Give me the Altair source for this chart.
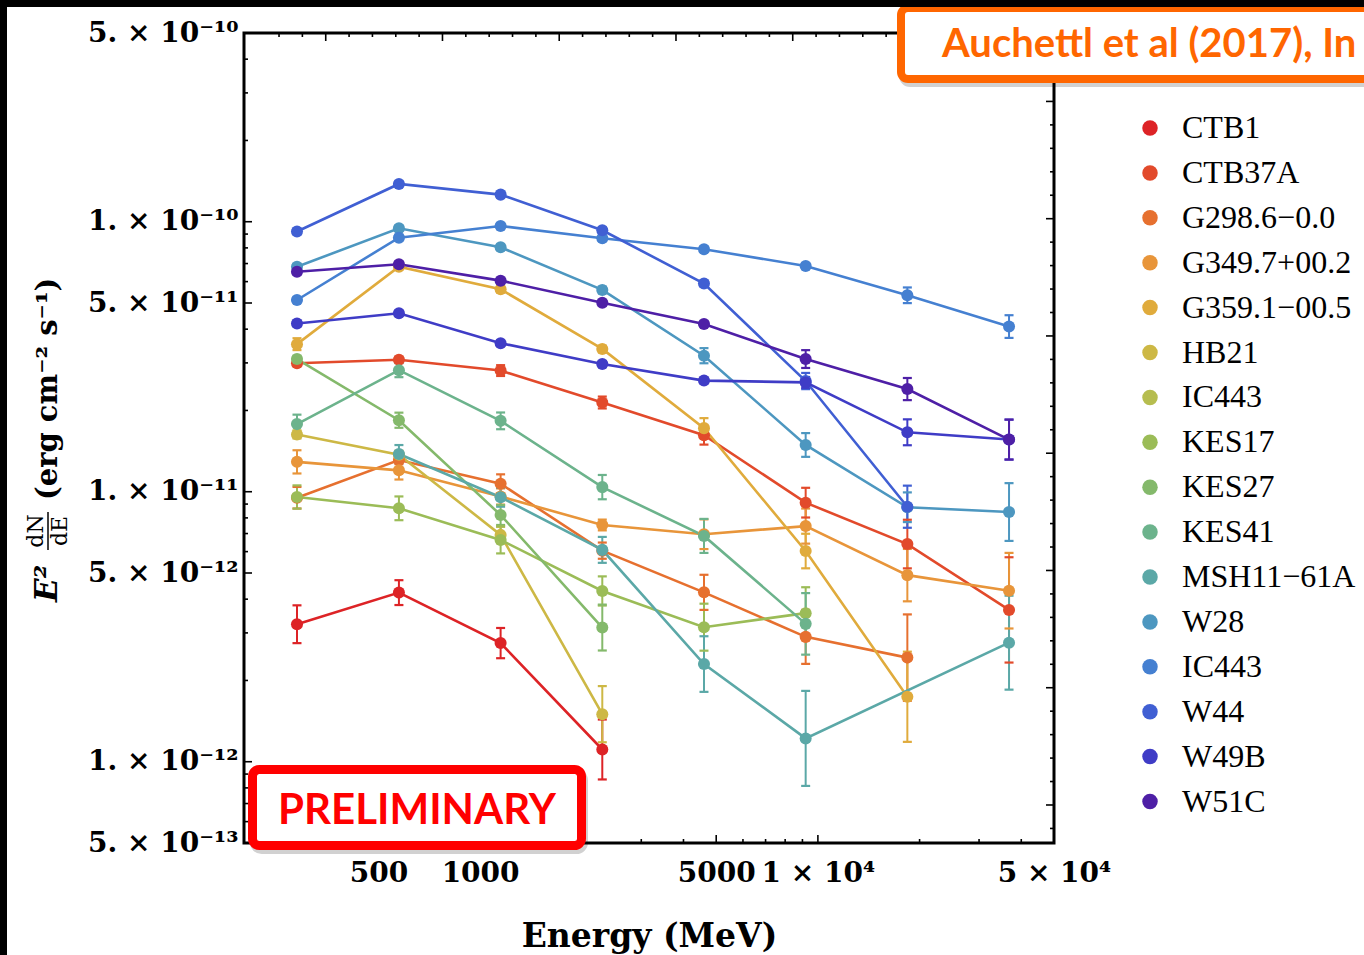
import numpy as np
import pandas as pd
import altair as alt

# Energy bin centres (MeV)
energy = [287, 575, 1150, 2300, 4600, 9200, 18400, 36800]

# E^2 dN/dE per source (erg cm^-2 s^-1); None = no measurement in that bin
ctb1 = [3.23e-12, 4.23e-12, 2.75e-12, 1.11e-12, None, None, None, None]
ctb37a = [2.99e-11, 3.08e-11, 2.81e-11, 2.14e-11, 1.62e-11, 9.11e-12, 6.40e-12, 3.65e-12]
g298 = [9.50e-12, 1.31e-11, 1.07e-11, 6.05e-12, 4.24e-12, 2.90e-12, 2.43e-12, None]
g349 = [1.29e-11, 1.20e-11, 9.60e-12, 7.53e-12, 6.96e-12, 7.46e-12, 4.91e-12, 4.30e-12]
g359 = [3.52e-11, 6.81e-11, 5.62e-11, 3.38e-11, 1.72e-11, 6.03e-12, 1.74e-12, None]
hb21 = [1.63e-11, 1.37e-11, 6.92e-12, 1.50e-12, None, None, None, None]
ic443 = [None, None, None, None, None, None, None, None]
kes17 = [9.56e-12, 8.68e-12, 6.63e-12, 4.29e-12, 3.15e-12, 3.55e-12, None, None]
kes27 = [3.10e-11, 1.84e-11, 8.20e-12, 3.14e-12, None, None, None, None]
kes41 = [1.78e-11, 2.82e-11, 1.83e-11, 1.04e-11, 6.86e-12, 3.24e-12, None, None]
msh11 = [None, 1.38e-11, 9.54e-12, 6.09e-12, 2.30e-12, 1.22e-12, None, 2.76e-12]
w28 = [6.81e-11, 9.46e-11, 8.04e-11, 5.59e-11, 3.19e-11, 1.49e-11, 8.76e-12, 8.41e-12]
ic443b = [5.13e-11, 8.73e-11, 9.64e-11, 8.68e-11, 7.91e-11, 6.86e-11, 5.34e-11, 4.09e-11]
w44 = [9.20e-11, 1.38e-10, 1.26e-10, 9.30e-11, 5.90e-11, 2.57e-11, 8.80e-12, None]
w49b = [4.20e-11, 4.58e-11, 3.55e-11, 2.97e-11, 2.58e-11, 2.54e-11, 1.66e-11, 1.56e-11]
w51c = [6.53e-11, 6.96e-11, 6.05e-11, 5.01e-11, 4.18e-11, 3.10e-11, 2.40e-11, 1.56e-11]

# Half-length of each error bar, in decades
ctb1_err = [0.070, 0.046, 0.056, 0.111, None, None, None, None]
ctb37a_err = [0.011, 0.011, 0.020, 0.022, 0.035, 0.055, 0.090, 0.195]
g298_err = [0.040, 0.015, 0.035, 0.030, 0.065, 0.100, 0.160, None]
g349_err = [0.043, 0.034, 0.030, 0.020, 0.055, 0.065, 0.097, 0.140]
g359_err = [0.022, 0.010, 0.012, 0.012, 0.037, 0.064, 0.167, None]
hb21_err = [0.015, 0.015, 0.030, 0.104, None, None, None, None]
ic443_err = [None, None, None, None, None, None, None, None]
kes17_err = [0.043, 0.044, 0.050, 0.054, 0.087, 0.096, None, None]
kes27_err = [0.012, 0.028, 0.037, 0.085, None, None, None, None]
kes41_err = [0.035, 0.026, 0.031, 0.045, 0.063, 0.114, None, None]
msh11_err = [None, 0.033, 0.035, 0.048, 0.103, 0.176, None, 0.174]
w28_err = [0.010, 0.010, 0.010, 0.012, 0.028, 0.044, 0.055, 0.107]
ic443b_err = [0.010, 0.010, 0.010, 0.010, 0.010, 0.010, 0.029, 0.042]
w44_err = [0.010, 0.010, 0.010, 0.010, 0.010, 0.030, 0.078, None]
w49b_err = [0.010, 0.010, 0.010, 0.010, 0.010, 0.020, 0.048, 0.074]
w51c_err = [0.010, 0.010, 0.010, 0.010, 0.010, 0.033, 0.041, 0.074]

source_names = ["CTB1", "CTB37A", "G298.6−0.0", "G349.7+00.2", "G359.1−00.5", "HB21",
                "IC443", "KES17", "KES27", "KES41", "MSH11−61A", "W28", "IC443 (2)",
                "W44", "W49B", "W51C"]
source_colors = ["#dd2326", "#e24a2b", "#e6702f", "#e8953a", "#e0ab3c", "#cdb845",
                 "#b6bd4f", "#9bbc57", "#84b96b", "#6cb38c", "#5ba8a7", "#4d97c0",
                 "#4580d1", "#405fd3", "#3f3cc6", "#4e1fa6"]

series = [ctb1, ctb37a, g298, g349, g359, hb21, ic443, kes17, kes27, kes41,
          msh11, w28, ic443b, w44, w49b, w51c]
series_err = [ctb1_err, ctb37a_err, g298_err, g349_err, g359_err, hb21_err, ic443_err,
              kes17_err, kes27_err, kes41_err, msh11_err, w28_err, ic443b_err,
              w44_err, w49b_err, w51c_err]

# Axis tick marks and their labels
x_major = [500, 1000, 5000, 10000, 50000]
x_labels = ["500", "1000", "5000", "1 × 10⁴", "5 × 10⁴"]
y_major = [5e-13, 1e-12, 5e-12, 1e-11, 5e-11, 1e-10, 5e-10]
y_labels = ["5. × 10⁻¹³", "1. × 10⁻¹²", "5. × 10⁻¹²", "1. × 10⁻¹¹",
            "5. × 10⁻¹¹", "1. × 10⁻¹⁰", "5. × 10⁻¹⁰"]

series_keys = [f"k{i:02d}" for i in range(len(source_names))]

rows = []
for key, name, vals, errs in zip(series_keys, source_names, series, series_err):
    for e, f, d in zip(energy, vals, errs):
        if f is None:
            continue
        rows.append({"key": key, "source": name, "energy": e, "flux": f,
                     "lo": f * 10 ** (-d), "hi": f * 10 ** d})
df = pd.DataFrame(rows)

W, H = 810, 810
XMIN, XMAX = 200, 50000
YMIN, YMAX = 5e-13, 5e-10
xscale = alt.Scale(type="log", domain=[XMIN, XMAX], nice=False)
yscale = alt.Scale(type="log", domain=[YMIN, YMAX], nice=False)

SERIF = "Liberation Serif"
TICKFONT = "DejaVu Serif"


def label_expr(values, labels):
    parts = [f"abs(log(datum.value) - log({v})) < 0.001 ? '{t}'" for v, t in zip(values, labels)]
    return " : ".join(parts) + " : ''"


x_axis = alt.Axis(values=x_major, labelExpr=label_expr(x_major, x_labels), ticks=False,
                  domain=False, grid=False, labelFont=TICKFONT, labelFontWeight="bold",
                  labelFontSize=28, labelColor="black", labelPadding=16, labelOverlap=False,
                  labelFlush=False, title="Energy (MeV)", titleFont=TICKFONT,
                  titleFontWeight="bold", titleFontSize=33, titleColor="black",
                  titleX=W / 2, titleY=93, titleBaseline="middle")
y_axis = alt.Axis(values=y_major, labelExpr=label_expr(y_major, y_labels), ticks=False,
                  domain=False, grid=False, labelFont=TICKFONT, labelFontWeight="bold",
                  labelFontSize=28, labelColor="black", labelPadding=6, labelOverlap=False,
                  labelFlush=False, title=None)


def X(field):
    return alt.X(field, type="quantitative", scale=xscale, axis=x_axis)


def Y(field):
    return alt.Y(field, type="quantitative", scale=yscale, axis=y_axis)


base = alt.Chart(df)
key_scale = alt.Scale(domain=series_keys, range=source_colors)

# lines and error bars are coloured through their own series key,
# so the legend comes from the points alone
err_rules = base.mark_rule(strokeWidth=2).encode(
    x=X("energy"), y=Y("lo"), y2="hi:Q",
    stroke=alt.Stroke("key:N", scale=key_scale, legend=None),
)
cap_lo = base.mark_tick(orient="horizontal", size=9, thickness=2.2, opacity=1).encode(
    x=X("energy"), y=Y("lo"),
    fill=alt.Fill("key:N", scale=key_scale, legend=None),
)
cap_hi = base.mark_tick(orient="horizontal", size=9, thickness=2.2, opacity=1).encode(
    x=X("energy"), y=Y("hi"),
    fill=alt.Fill("key:N", scale=key_scale, legend=None),
)
lines = base.mark_line(strokeWidth=2.6).encode(
    x=X("energy"), y=Y("flux"),
    stroke=alt.Stroke("key:N", scale=key_scale, legend=None),
)
points = base.mark_circle(size=145, opacity=1).encode(
    x=X("energy"), y=Y("flux"),
    color=alt.Color(
        "source:N", scale=alt.Scale(domain=source_names, range=source_colors),
        legend=alt.Legend(title=None, orient="none", legendX=890, legendY=79,
                          labelFont=SERIF, labelFontSize=32, labelColor="black",
                          labelExpr="replace(datum.label, ' (2)', '')", labelLimit=400,
                          labelOffset=16, symbolType="circle", symbolSize=240,
                          symbolStrokeWidth=0, symbolOpacity=1, rowPadding=12.9,
                          padding=0),
    ),
)

# Frame tick marks pointing into the plot
y_minor = [k * 10.0 ** e for e in range(-13, -9) for k in range(2, 10)
           if k != 5 and YMIN < k * 10.0 ** e < YMAX]
x_minor = [k * 10.0 ** e for e in range(2, 5) for k in range(2, 10)
           if k != 5 and XMIN <= k * 10.0 ** e <= XMAX]
ln_steps = np.arange(-141, -107) / 5.0
r_major = [float(np.exp(v)) for v in ln_steps if abs(v - round(v)) < 1e-9]
r_minor = [float(np.exp(v)) for v in ln_steps if abs(v - round(v)) >= 1e-9]
top_px = np.arange(35.0, W, 23.33)
t_vals = [XMIN * 10 ** (p / 337.5) for p in top_px]
t_major = [v for p, v in zip(top_px, t_vals) if abs(((p - 81.65) / 23.33) % 5) < 0.01]
t_minor = [v for v in t_vals if v not in t_major]


def yticks(vals, x0, x1):
    return alt.Chart(pd.DataFrame({"v": vals})).mark_rule(color="black", strokeWidth=1.6).encode(
        y=Y("v"), x=alt.value(x0), x2=alt.value(x1))


def xticks(vals, y0, y1):
    return alt.Chart(pd.DataFrame({"v": vals})).mark_rule(color="black", strokeWidth=1.6).encode(
        x=X("v"), y=alt.value(y0), y2=alt.value(y1))


ticks = [
    yticks(y_major, 0, 8), yticks(y_minor, 0, 4),
    yticks(r_major, W - 8, W), yticks(r_minor, W - 4, W),
    xticks(x_major, H, H - 8), xticks(x_minor, H, H - 4),
    xticks(t_major, 0, 8), xticks(t_minor, 0, 4),
]

one = pd.DataFrame({"a": [0]})


def vtext(txt, x, y, size, weight="bold", style="normal", align="left"):
    return alt.Chart(one).mark_text(font=TICKFONT, fontSize=size, fontWeight=weight,
                                    fontStyle=style, angle=270, align=align,
                                    baseline="middle", color="black").encode(
        x=alt.value(x), y=alt.value(y), text=alt.value(txt))


# vertical axis title: E^2 dN/dE (erg cm^-2 s^-1), with the derivative as a stacked fraction
y_title = [
    vtext("E²", -196, 569, 31, style="italic"),
    vtext("dN", -208, 498, 22, weight="normal", align="center"),
    vtext("dE", -184, 498, 22, weight="normal", align="center"),
    alt.Chart(one).mark_rule(color="black", strokeWidth=1.5).encode(
        x=alt.value(-196), y=alt.value(479), y2=alt.value(517)),
    vtext("(erg cm⁻² s⁻¹)", -196, 467, 29),
]


def box(x0, x1, y0, y1, color, sw):
    shadow = alt.Chart(one).mark_rect(fill=None, stroke="#000000", strokeWidth=sw,
                                      strokeOpacity=0.18, cornerRadius=7).encode(
        x=alt.value(x0 + 2), x2=alt.value(x1 + 2), y=alt.value(y0 + 4), y2=alt.value(y1 + 4))
    frame = alt.Chart(one).mark_rect(fill="white", stroke=color, strokeWidth=sw,
                                     cornerRadius=7).encode(
        x=alt.value(x0), x2=alt.value(x1), y=alt.value(y0), y2=alt.value(y1))
    return [shadow, frame]


prelim = box(8.5, 337.5, 736.5, 812.5, "#ff0000", 9) + [
    alt.Chart(one).mark_text(font="Lato", fontWeight="bold", fontSize=42, color="#ff0000",
                             align="center", baseline="alphabetic").encode(
        x=alt.value(173), y=alt.value(791), text=alt.value("PRELIMINARY"))
]
ref_note = box(657, 1200, -25, 46, "#ff6600", 8) + [
    alt.Chart(one).mark_text(font="Lato", fontWeight="bold", fontSize=40, color="#ff6600",
                             align="left", baseline="alphabetic").encode(
        x=alt.value(698), y=alt.value(24), text=alt.value("Auchettl et al (2017), In"))
]

# dark edge along the top and left of the figure
edges = [
    alt.Chart(one).mark_rect(color="black").encode(
        x=alt.value(-244), x2=alt.value(1130), y=alt.value(-33), y2=alt.value(-26)),
    alt.Chart(one).mark_rect(color="black").encode(
        x=alt.value(-244), x2=alt.value(-237), y=alt.value(-33), y2=alt.value(930)),
]

chart = alt.layer(
    err_rules, cap_lo, cap_hi, lines, points, *ticks, *y_title, *prelim, *ref_note, *edges
).properties(
    width=W, height=H,
    padding={"left": 244, "top": 33, "right": 310, "bottom": 112},
    autosize=alt.AutoSizeParams(type="none"),
    background="white",
).configure_view(stroke="black", strokeWidth=3)

chart.save("out.html", embed_options={"renderer": "svg", "actions": False})
